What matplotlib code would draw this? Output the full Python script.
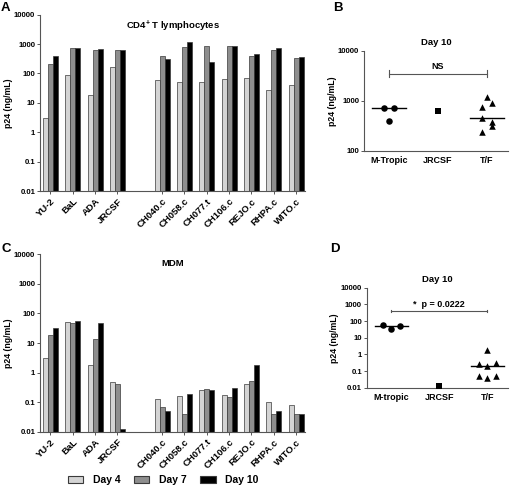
import matplotlib
matplotlib.use("Agg")
import matplotlib.pyplot as plt
from matplotlib.patches import Patch
import numpy as np

plt.rcParams['font.family'] = ['Liberation Sans', 'DejaVu Sans']
plt.rcParams['font.weight'] = 'bold'
plt.rcParams['mathtext.fontset'] = 'custom'
plt.rcParams['mathtext.rm'] = 'Liberation Sans:bold'
plt.rcParams['mathtext.bf'] = 'Liberation Sans:bold'
plt.rcParams['mathtext.default'] = 'bf'

# ---------------- data ----------------
viruses = ["YU-2", "BaL", "ADA", "JRCSF",
           "CH040.c", "CH058.c", "CH077.t", "CH106.c", "REJO.c", "RHPA.c", "WITO.c"]
days = ["Day 4", "Day 7", "Day 10"]

cd4_day4 = [3, 88, 19, 165, 60, 51, 52, 63, 70, 28, 40]
cd4_day7 = [210, 720, 640, 650, 390, 800, 890, 840, 390, 620, 340]
cd4_day10 = [390, 720, 700, 610, 310, 1170, 240, 880, 460, 750, 370]

mdm_day4 = [3.2, 51, 1.77, 0.47, 0.127, 0.157, 0.257, 0.17, 0.41, 0.10, 0.08]
mdm_day7 = [18, 49, 14, 0.41, 0.07, 0.04, 0.27, 0.148, 0.52, 0.04, 0.04]
mdm_day10 = [32, 54, 49, 0.012, 0.05, 0.193, 0.25, 0.29, 1.75, 0.05, 0.04]

groups = ["M-Tropic", "JRCSF", "T/F"]
groups_d = ["M-tropic", "JRCSF", "T/F"]
group_members = [["YU-2", "BaL", "ADA"], ["JRCSF"],
                 ["CH040.c", "CH058.c", "CH077.t", "CH106.c", "REJO.c", "RHPA.c", "WITO.c"]]
group_markers = ["o", "s", "^"]

yticks_bar = [0.01, 0.1, 1, 10, 100, 1000, 10000]
yticklabels_bar = ["0.01", "0.1", "1", "10", "100", "1000", "10000"]
yticks_b = [100, 1000, 10000]
yticklabels_b = ["100", "1000", "10000"]

sig_b = "NS"
sig_d = "*  p = 0.0222"

# ---------------- layout / style ----------------
colors = ["#d4d4d4", "#8e8e8e", "#000000"]
edge = "#3a3a3a"
spine_c = "#555555"
slots = [0, 1, 2, 3, 5, 6, 7, 8, 9, 10, 11]
bw = 0.225
# beeswarm-style horizontal offsets (layout)
jit_b = {"YU-2": 0.0, "BaL": -0.1, "ADA": 0.1,
         "CH040.c": 0.1, "CH058.c": 0.0, "CH077.t": -0.1, "CH106.c": 0.1,
         "REJO.c": -0.1, "RHPA.c": -0.1, "WITO.c": 0.1, "JRCSF": 0.0}
jit_d = {"YU-2": 0.0, "BaL": -0.175, "ADA": 0.175,
         "CH040.c": -0.175, "CH058.c": 0.0, "CH077.t": -0.175, "CH106.c": 0.175,
         "REJO.c": 0.0, "RHPA.c": 0.175, "WITO.c": 0.0, "JRCSF": 0.0}

W, H = 512, 487
fig = plt.figure(figsize=(W / 100, H / 100), dpi=100)


def px_axes(l, t, r, b):
    return fig.add_axes([l / W, 1 - b / H, (r - l) / W, (b - t) / H])


def style(ax):
    for s in ["top", "right"]:
        ax.spines[s].set_visible(False)
    for s in ["left", "bottom"]:
        ax.spines[s].set_color(spine_c)
        ax.spines[s].set_linewidth(0.8)
    ax.tick_params(axis="both", colors=spine_c, length=2.2, width=0.7, labelcolor="black")
    ax.tick_params(axis="y", pad=1.2)
    ax.tick_params(axis="y", which="minor", left=False)


def bar_panel(ax, d4, d7, d10, title):
    vals = [d4, d7, d10]
    for k, (v, c) in enumerate(zip(vals, colors)):
        x = np.array(slots) + (k - 1) * bw
        v = np.array(v, dtype=float)
        ax.bar(x, v - 0.01, bottom=0.01, width=bw, color=c, edgecolor=edge, linewidth=0.5)
    ax.set_yscale("log")
    ax.set_ylim(0.01, 10000)
    ax.set_xlim(-0.47, 11.4)
    ax.set_yticks(yticks_bar)
    ax.set_yticklabels(yticklabels_bar, fontsize=5.6, fontweight="bold")
    ax.yaxis.set_minor_locator(matplotlib.ticker.NullLocator())
    ax.set_xticks(slots)
    ax.set_xticklabels(viruses, rotation=45, ha="right", rotation_mode="anchor",
                       fontsize=6.8, fontweight="bold")
    ax.set_ylabel("p24 (ng/mL)", fontsize=6.3, fontweight="bold", labelpad=1.0)
    ax.text(0.5, 0.975, title, transform=ax.transAxes, ha="center", va="top",
            fontsize=6.8, fontweight="bold")
    style(ax)
    ax.tick_params(axis="x", pad=2)


def dot_panel(ax, series, jit, labels, yt, ytl, ylim, sig, sig_y, text_y):
    lookup = dict(zip(viruses, series))
    for gi, (members, mk) in enumerate(zip(group_members, group_markers)):
        ys = [lookup[m] for m in members]
        xs = [gi + jit[m] for m in members]
        ax.scatter(xs, ys, marker=mk, s=22, color="black", zorder=3, clip_on=False,
                   linewidths=0)
        if len(ys) > 1:
            med = np.median(ys)
            ax.plot([gi - 0.34, gi + 0.34], [med, med], color="black", lw=1.0, zorder=2)
    ax.set_yscale("log")
    ax.set_ylim(*ylim)
    ax.set_xlim(-0.51, 2.43)
    ax.set_yticks(yt)
    ax.set_yticklabels(ytl, fontsize=5.6, fontweight="bold")
    ax.yaxis.set_minor_locator(matplotlib.ticker.NullLocator())
    ax.set_xticks([0, 1, 2])
    ax.set_xticklabels(labels, fontsize=6.5, fontweight="bold")
    ax.set_ylabel("p24 (ng/mL)", fontsize=6.3, fontweight="bold", labelpad=1.0)
    ax.set_title("Day 10", fontsize=6.8, fontweight="bold", pad=4)
    # significance bracket
    ax.plot([0, 2], [sig_y, sig_y], color=spine_c, lw=0.8)
    f = 1.18
    for xx in (0, 2):
        ax.plot([xx, xx], [sig_y / f, sig_y * f], color=spine_c, lw=0.8)
    ax.text(1, text_y, sig, ha="center", va="bottom", fontsize=6.5, fontweight="bold")
    style(ax)
    ax.tick_params(axis="x", length=0, pad=4)


axA = px_axes(40, 14.7, 305, 191)
bar_panel(axA, cd4_day4, cd4_day7, cd4_day10, r"CD4$^{+}$ T lymphocytes")

axC = px_axes(40, 254.3, 305, 431.7)
bar_panel(axC, mdm_day4, mdm_day7, mdm_day10, "MDM")

axB = px_axes(364, 50.7, 508, 150.7)
dot_panel(axB, cd4_day10, jit_b, groups, yticks_b, yticklabels_b, (100, 10000),
          sig_b, 3470, 3900)

axD = px_axes(366.7, 287.7, 508, 387.7)
dot_panel(axD, mdm_day10, jit_d, groups_d, yticks_bar, yticklabels_bar, (0.01, 10000),
          sig_d, 400, 520)

for lbl, (x, y) in zip("ABCD", [(1, 2), (333, 2), (1, 243), (330, 243)]):
    fig.text(x / W, 1 - y / H, lbl, ha="left", va="top", fontsize=9.5, fontweight="bold")

handles = [Patch(facecolor=c, edgecolor=edge, linewidth=0.8) for c in colors]
fig.legend(handles, days, loc="center", bbox_to_anchor=(163 / W, 1 - 480 / H), ncol=3,
           frameon=False, fontsize=7.5, handlelength=1.5, handleheight=0.7,
           columnspacing=1.3, handletextpad=0.9, borderpad=0)

fig.savefig("out.png", dpi=100)
